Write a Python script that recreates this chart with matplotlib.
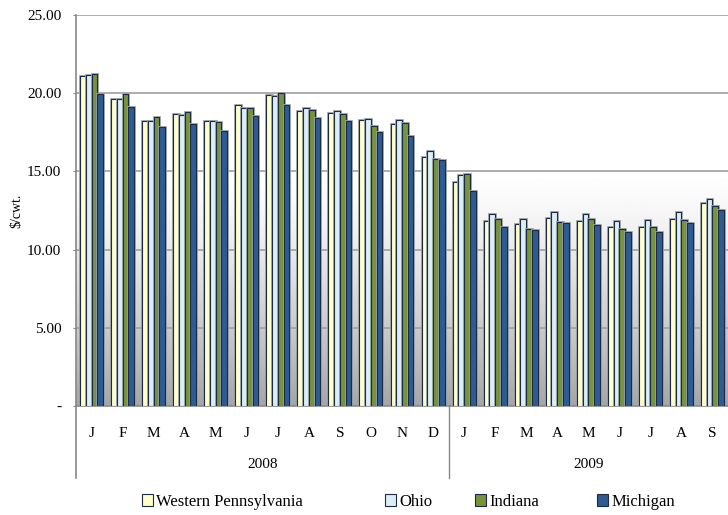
import matplotlib
matplotlib.use("Agg")
import matplotlib.pyplot as plt
import numpy as np
from matplotlib.patches import Patch
from matplotlib.transforms import blended_transform_factory
import matplotlib.patheffects as pe

months = ["J","F","M","A","M","J","J","A","S","O","N","D",
          "J","F","M","A","M","J","J","A","S"]
years = ["2008", "2009"]
year_counts = [12, 9]
series_names = ["Western Pennsylvania", "Ohio", "Indiana", "Michigan"]

western_pa = [21.10,19.65,18.22,18.67,18.22,19.22,19.88,18.86,18.71,18.29,18.00,15.92,
              14.34,11.83,11.62,12.04,11.83,11.47,11.47,11.98,12.98]
ohio = [21.16,19.65,18.22,18.59,18.22,19.03,19.82,19.08,18.86,18.37,18.29,16.28,
        14.77,12.25,11.98,12.40,12.25,11.83,11.92,12.40,13.25]
indiana = [21.23,19.93,18.46,18.80,18.16,19.03,19.99,18.93,18.65,17.92,18.07,15.77,
           14.85,11.98,11.34,11.76,11.98,11.34,11.47,11.92,12.77]
michigan = [19.93,19.10,17.82,18.00,17.58,18.52,19.22,18.44,18.22,17.52,17.28,15.71,
            13.77,11.47,11.25,11.68,11.55,11.13,11.13,11.68,12.55]

colors = ["#ffffcc", "#dbeef4", "#77933c", "#2f5b91"]
edge = "#1b2a45"

plt.rcParams['font.family'] = ['Liberation Serif', 'DejaVu Serif']

fig = plt.figure(figsize=(7.28, 5.15), dpi=100)
ax = fig.add_axes([76/728, 109/515, 1 - 76/728, (406-15)/515])

n = len(months)
x = np.arange(n)
ax.set_xlim(-0.5, n - 0.5)
ax.set_ylim(0, 25)

# gradient background (white at top, grey towards the bottom)
t = np.linspace(0, 1, 256)  # 0 bottom, 1 top
frac = np.clip((0.6 - t) / 0.6, 0, 1) ** 1.3
g = 1 - 0.35 * frac
ax.imshow(g[:, None], cmap="gray", vmin=0, vmax=1, extent=[-0.5, n - 0.5, 0, 25],
          origin='lower', aspect='auto', zorder=0, interpolation='bilinear')

for yv in [5, 10, 15, 20, 25]:
    ax.axhline(yv, color="#a0a0a0", lw=1.2, zorder=1)

w = 0.185
data = [western_pa, ohio, indiana, michigan]
for i, (vals, c, name) in enumerate(zip(data, colors, series_names)):
    bars = ax.bar(x + (i - 1.5) * w, vals, width=w, color=c, edgecolor=edge,
                  linewidth=0.8, zorder=3, label=name)
    for b in bars:
        b.set_path_effects([pe.Stroke(linewidth=2.0, foreground="#9aa3ad"), pe.Normal()])

ax.set_yticks([0, 5, 10, 15, 20, 25])
ax.set_yticklabels(["-", "5.00", "10.00", "15.00", "20.00", "25.00"], fontsize=11)
ax.tick_params(axis='y', length=2.5, color="#888888", pad=8)
ax.set_ylabel("$/cwt.", fontsize=10, labelpad=3)

ax.set_xticks(x)
ax.set_xticklabels(months, fontsize=11)
ax.tick_params(axis='x', length=0, pad=15)

for s in ["top", "right"]:
    ax.spines[s].set_visible(False)
ax.spines["left"].set_color("#888888")
ax.spines["left"].set_linewidth(1.2)
ax.spines["bottom"].set_color("#888888")
ax.spines["bottom"].set_linewidth(1.2)

trans = blended_transform_factory(ax.transData, ax.transAxes)
ybot = -(478 - 406) / 391
start = 0
for yr, cnt in zip(years, year_counts):
    center = start + (cnt - 1) / 2
    ax.text(center, -(464 - 406) / 391, yr, transform=trans, ha='center', va='center', fontsize=11)
    sep = start + cnt - 0.5
    if sep < n - 0.5:
        ax.plot([sep, sep], [0, ybot], transform=trans, color="#888888", lw=1, clip_on=False)
    start += cnt
ax.plot([-0.5, -0.5], [0, ybot], transform=trans, color="#888888", lw=1.2, clip_on=False)

# legend entries placed like the original (one per entry)
legend_x = [142, 385, 475, 597]
for name, c, lx in zip(series_names, colors, legend_x):
    h = Patch(facecolor=c, edgecolor=edge, linewidth=0.8)
    leg = fig.legend([h], [name], loc='center left', bbox_to_anchor=(lx/728, 13/515),
                     frameon=False, fontsize=12, handlelength=0.65, handleheight=0.7,
                     handletextpad=0.2, borderpad=0, borderaxespad=0)

fig.savefig("out.png", dpi=100)
